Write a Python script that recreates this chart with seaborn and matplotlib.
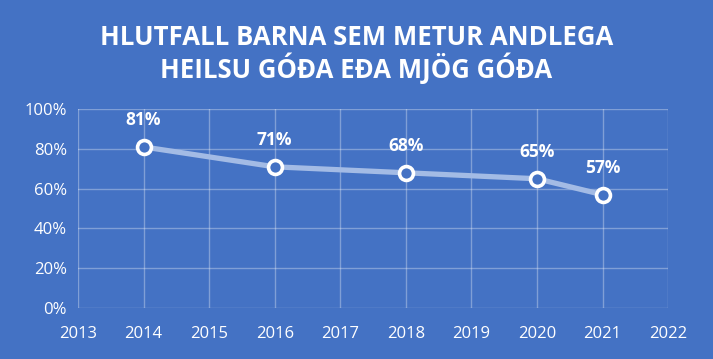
import pandas as pd
import seaborn as sns
import matplotlib.pyplot as plt
from matplotlib.ticker import PercentFormatter

years = [2014, 2016, 2018, 2020, 2021]
share = [81, 71, 68, 65, 57]
labels = ["81%", "71%", "68%", "65%", "57%"]
title = "HLUTFALL BARNA SEM METUR ANDLEGA\nHEILSU GÓÐA EÐA MJÖG GÓÐA"

bg = "#4472C4"
sns.set_style("white")
plt.rcParams["font.family"] = ["Open Sans", "DejaVu Sans"]

df = pd.DataFrame({"year": years, "share": share})

fig = plt.figure(figsize=(7.13, 3.59), dpi=100, facecolor=bg)
ax = fig.add_axes([0.1094, 0.142, 0.8276, 0.554])
ax.set_facecolor(bg)

sns.lineplot(data=df, x="year", y="share", ax=ax, color="#a3bbe5", lw=3.8,
             marker="o", markersize=10, markerfacecolor=bg,
             markeredgecolor="white", markeredgewidth=2.6, zorder=3)

for x, y, t in zip(years, share, labels):
    ax.annotate(t, (x, y), xytext=(0, 19.5), textcoords="offset points",
                ha="center", va="center", color="white", fontsize=12.5,
                fontweight="bold")

ax.set_xlim(2013, 2022)
ax.set_ylim(0, 100)
ax.set_xticks(range(2013, 2023))
ax.set_yticks(range(0, 101, 20))
ax.yaxis.set_major_formatter(PercentFormatter(decimals=0))
ax.grid(True, color="white", alpha=0.32, lw=1)
for s in ax.spines.values():
    s.set_visible(False)
ax.tick_params(colors="white", labelsize=12, length=0, pad=8)
ax.tick_params(axis="x", pad=13)
ax.set_xlabel("")
ax.set_ylabel("")

fig.text(0.5, 0.85, title, ha="center", va="center", color="white",
         fontsize=18.5, fontweight="bold", linespacing=1.08)

fig.savefig("out.png", dpi=100, facecolor=bg)
